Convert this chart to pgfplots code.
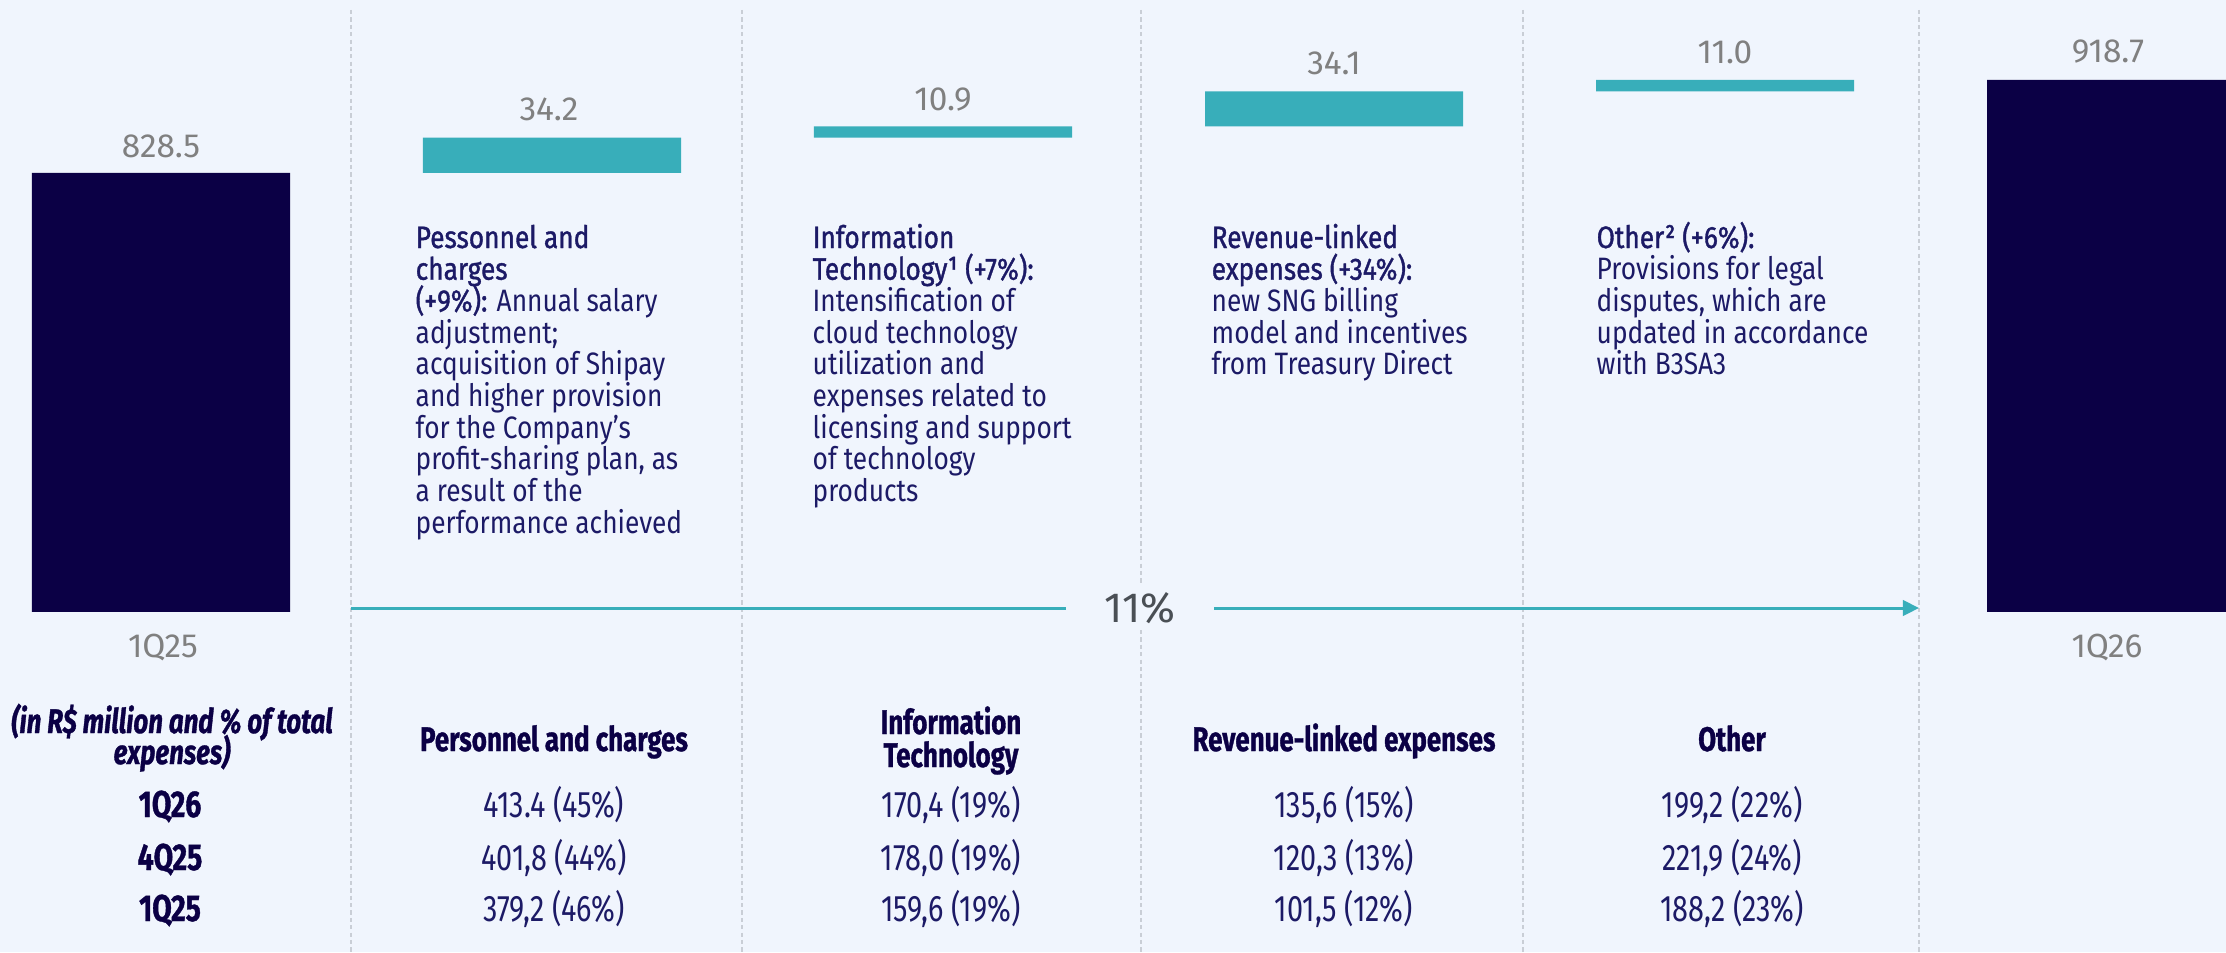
\documentclass[border=0pt]{standalone}
\usepackage{fontspec}
\setmainfont{Fira Sans}
\usepackage{pgfplots}
\pgfplotsset{compat=1.18}
\usetikzlibrary{arrows.meta}
\newfontfamily\bodyfont[FakeStretch=0.85]{Fira Sans}
\newfontfamily\medfont[FakeStretch=0.85,FakeBold=1.2]{Fira Sans}
\newfontfamily\heavyfont[FakeStretch=0.76,FakeBold=1.0]{Fira Sans}
\newfontfamily\valfont[FakeStretch=0.78]{Fira Sans}
\definecolor{bg}{HTML}{F0F5FD}
\definecolor{navy}{HTML}{0B0045}
\definecolor{tealb}{HTML}{38AEBA}
\definecolor{txt}{HTML}{1C1A66}
\definecolor{lbl}{HTML}{808080}
\definecolor{pct}{HTML}{4A4F55}
\definecolor{dashc}{HTML}{C9CED6}
\newcommand{\bt}[3]{\node[anchor=base west,inner sep=0pt,text=txt,font=\bodyfont\fontsize{8.8}{10}\selectfont] at (axis cs:#1,#2) {#3};}
\newcommand{\lb}[3]{\node[anchor=base,inner sep=0pt,text=lbl,font=\fontsize{9.5}{11}\selectfont] at (axis cs:#1,#2) {#3};}
\newcommand{\hd}[3]{\node[anchor=base,inner sep=0pt,text=navy,font=\heavyfont\bfseries\fontsize{9.7}{11}\selectfont] at (axis cs:#1,#2) {#3};}
\newcommand{\rl}[3]{\node[anchor=base,inner sep=0pt,text=navy,font=\heavyfont\bfseries\fontsize{10.6}{12}\selectfont] at (axis cs:#1,#2) {#3};}
\newcommand{\vl}[3]{\node[anchor=base,inner sep=0pt,text=txt,font=\valfont\fontsize{10.5}{12}\selectfont] at (axis cs:#1,#2) {#3};}
\begin{document}
\begin{tikzpicture}
\fill[bg] (0,0) rectangle (22.26cm,9.52cm);
\begin{axis}[at={(0,0)}, anchor=south west, width=22.26cm, height=9.52cm, scale only axis,
  xmin=0, xmax=2226, ymin=0, ymax=952, y dir=reverse, hide axis, clip=false]
\foreach \xx in {351,742,1141,1523,1919}{
  \edef\temp{\noexpand\addplot[dashc, line width=0.45pt, dash pattern=on 1.2pt off 0.9pt] coordinates {(\xx,10) (\xx,952)};}
  \temp
}
\draw[tealb, line width=0.85pt] (axis cs:351,608) -- (axis cs:1066,608);
\draw[tealb, line width=0.85pt, -{Triangle[length=4.6pt,width=4.4pt]}] (axis cs:1214,608) -- (axis cs:1919,608);
\node[anchor=base, fill=bg, inner sep=2pt, text=pct, font=\fontsize{12}{14}\selectfont] at (axis cs:1140,622) {11\%};
% value labels
\lb{161}{157}{828.5}
\lb{549}{120}{34.2}
\lb{943}{110}{10.9}
\lb{1334}{75}{34.1}
\lb{1725}{64}{11.0}
\lb{2108}{63}{918.7}
\lb{163}{657}{1Q25}
\lb{2107}{657}{1Q26}
% Personnel
\bt{415}{248}{\medfont Pessonnel and}
\bt{415}{279.7}{\medfont charges}
\bt{415}{311.4}{{\medfont (+9\%):} Annual salary}
\bt{415}{343.1}{adjustment;}
\bt{415}{374.8}{acquisition of Shipay}
\bt{415}{406.5}{and higher provision}
\bt{415}{438.2}{for the Company’s}
\bt{415}{469.9}{profit-sharing plan, as}
\bt{415}{501.6}{a result of the}
\bt{415}{533.3}{performance achieved}
% IT
\bt{812}{248}{\medfont Information}
\bt{812}{279.7}{\medfont Technology¹ (+7\%):}
\bt{812}{311.4}{Intensification of}
\bt{812}{343.1}{cloud technology}
\bt{812}{374.8}{utilization and}
\bt{812}{406.5}{expenses related to}
\bt{812}{438.2}{licensing and support}
\bt{812}{469.9}{of technology}
\bt{812}{501.6}{products}
% Revenue
\bt{1211}{248}{\medfont Revenue-linked}
\bt{1211}{279.7}{\medfont expenses (+34\%):}
\bt{1211}{311.4}{new SNG billing}
\bt{1211}{343.1}{model and incentives}
\bt{1211}{374.8}{from Treasury Direct}
% Other
\bt{1596}{248}{\medfont Other² (+6\%):}
\bt{1596}{279.7}{Provisions for legal}
\bt{1596}{311.4}{disputes, which are}
\bt{1596}{343.1}{updated in accordance}
\bt{1596}{374.8}{with B3SA3}
% table headers
\hd{172}{733}{\itshape (in R\$ million and \% of total}
\hd{172}{764}{\itshape expenses)}
\hd{554}{751}{Personnel and charges}
\hd{951}{734}{Information}
\hd{951}{767}{Technology}
\hd{1344}{751}{Revenue-linked expenses}
\hd{1732}{751}{Other}
\rl{170}{817}{1Q26}
\rl{170}{870}{4Q25}
\rl{170}{921}{1Q25}
\vl{554}{817}{413.4 (45\%)}
\vl{554}{870}{401,8 (44\%)}
\vl{554}{921}{379,2 (46\%)}
\vl{951}{817}{170,4 (19\%)}
\vl{951}{870}{178,0 (19\%)}
\vl{951}{921}{159,6 (19\%)}
\vl{1344}{817}{135,6 (15\%)}
\vl{1344}{870}{120,3 (13\%)}
\vl{1344}{921}{101,5 (12\%)}
\vl{1732}{817}{199,2 (22\%)}
\vl{1732}{870}{221,9 (24\%)}
\vl{1732}{921}{188,2 (23\%)}
\end{axis}
\begin{axis}[at={(0cm,3.40cm)}, anchor=south west, width=22.26cm, height=6.12cm, scale only axis,
  xmin=-0.4118, xmax=5.2813, ymin=402.7, ymax=996.3, hide axis, ybar stacked, bar width=0.66]
\addplot[fill=none, draw=none] coordinates {(0,0) (1,828.5) (2,862.7) (3,873.6) (4,907.7) (5,0)};
\addplot[fill=navy, draw=none] coordinates {(0,828.5) (1,0) (2,0) (3,0) (4,0) (5,918.7)};
\addplot[fill=tealb, draw=none] coordinates {(0,0) (1,34.2) (2,10.9) (3,34.1) (4,11.0) (5,0)};
\end{axis}
\pgfresetboundingbox
\path[use as bounding box] (0,0) rectangle (22.26cm,9.52cm);
\end{tikzpicture}
\end{document}
